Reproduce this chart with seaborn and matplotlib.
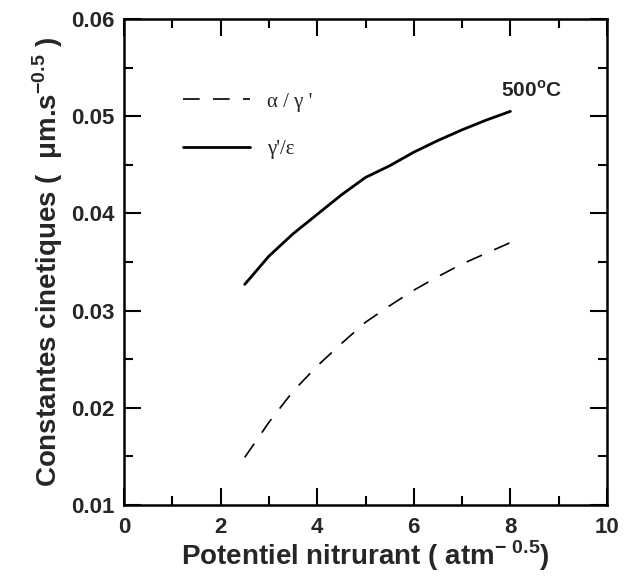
import matplotlib
matplotlib.use("Agg")
import matplotlib.pyplot as plt
import seaborn as sns
import pandas as pd
from matplotlib.ticker import MultipleLocator

# Data
x_vals = [2.5, 3.0, 3.5, 4.0, 4.5, 5.0, 5.5, 6.0, 6.5, 7.0, 7.5, 8.0]
gamma_eps = [0.0327, 0.0356, 0.0379, 0.0399, 0.0419, 0.0437, 0.0449, 0.0463, 0.0475, 0.0486, 0.0496, 0.0505]
alpha_gamma = [0.0149, 0.0185, 0.0217, 0.0243, 0.0266, 0.0288, 0.0305, 0.0321, 0.0335, 0.0348, 0.0359, 0.0370]
x_ticks = [0, 2, 4, 6, 8, 10]
x_tick_labels = ["0", "2", "4", "6", "8", "10"]
y_ticks = [0.01, 0.02, 0.03, 0.04, 0.05, 0.06]
y_tick_labels = ["0.01", "0.02", "0.03", "0.04", "0.05", "0.06"]
label_ag = "α / γ '"
label_ge = "γ'/ε"

sns.set_theme(style="white")
plt.rcParams['font.family'] = ['Liberation Sans', 'DejaVu Sans']
plt.rcParams['mathtext.fontset'] = 'custom'
plt.rcParams['mathtext.rm'] = 'Liberation Sans:bold'
plt.rcParams['mathtext.bf'] = 'Liberation Sans:bold'

df = pd.DataFrame({"x": x_vals, "ge": gamma_eps, "ag": alpha_gamma})

fig = plt.figure(figsize=(6.24, 5.76), dpi=100)
ax = fig.add_axes([0.1987, 0.1233, 0.7741, 0.8437])

sns.lineplot(data=df, x="x", y="ag", ax=ax, color="black", lw=1.2,
             linestyle=(0, (10, 8)), label=label_ag)
sns.lineplot(data=df, x="x", y="ge", ax=ax, color="black", lw=2.0,
             linestyle="-", label=label_ge)

ax.set_xlim(0, 10)
ax.set_ylim(0.01, 0.06)
ax.set_xticks(x_ticks)
ax.set_xticklabels(x_tick_labels)
ax.set_yticks(y_ticks)
ax.set_yticklabels(y_tick_labels)
ax.xaxis.set_minor_locator(MultipleLocator(1))
ax.yaxis.set_minor_locator(MultipleLocator(0.005))
ax.tick_params(which="both", direction="in", top=True, right=True,
               bottom=True, left=True, width=1.5, color="black")
ax.tick_params(which="major", length=12, labelsize=16)
ax.tick_params(axis="x", which="major", pad=9)
ax.tick_params(axis="y", which="major", pad=7)
ax.tick_params(which="minor", length=6.5)
for lab in ax.get_xticklabels() + ax.get_yticklabels():
    lab.set_fontweight("bold")
for sp in ax.spines.values():
    sp.set_linewidth(1.8)
    sp.set_color("black")

ax.set_xlabel("Potentiel nitrurant ( atm$^{\\mathregular{-\\ 0.5}}$)",
              fontsize=20, fontweight="bold", labelpad=0)
ax.set_ylabel("Constantes cinetiques (  μm.s$^{\\mathregular{-0.5}}$ )",
              fontsize=20, fontweight="bold", labelpad=4)

ax.text(7.8, 0.0527, "500$^{\\mathregular{o}}$C", fontsize=15,
        fontweight="bold", ha="left", va="center")

leg = ax.legend(loc="upper left", bbox_to_anchor=(0.084, 0.888), frameon=False,
                handlelength=3.2, handletextpad=0.8, labelspacing=1.35,
                prop={"family": "Liberation Serif", "size": 15})

fig.savefig("out.png", dpi=100)
